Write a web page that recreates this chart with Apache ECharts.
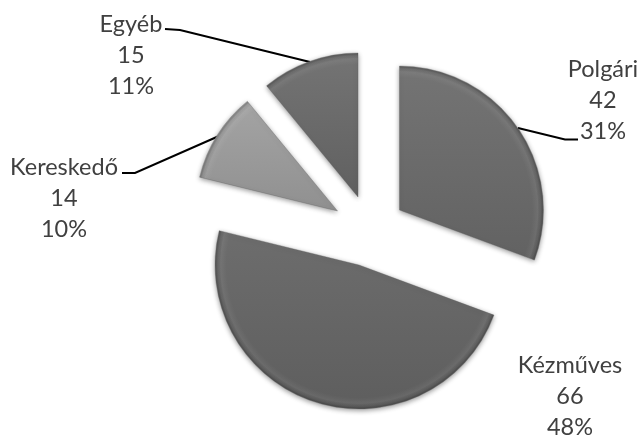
<!DOCTYPE html>
<html><head><meta charset="utf-8">
<style>html,body{margin:0;padding:0;background:#fff}#c{width:644px;height:438px}</style>
<script src="https://cdn.jsdelivr.net/npm/echarts@6/dist/echarts.min.js"></script>
</head><body><div id="c"></div>
<script>
const categories = ['Polgári','Kézműves','Kereskedő','Egyéb'];
const values = [42,66,14,15];
const centers = [[399.5,210],[359,265],[337.5,211],[358,197]];
const radii = [144,144,142,144];
const topColors = ['#747474','#6d6d6d','#a4a4a4','#747474'];
const bottomColors = ['#626262','#5e5e5e','#909090','#606060'];
const labelSpots = [[603,100],[570,396],[64,198],[131,55]];
const leaders = [
  [[518,128],[565,139.5],[578,139.5]],
  null,
  [[219,136],[135,173],[122,173]],
  [[310,62],[180,30],[165,29]]
];
const hidden = {color:'transparent',borderWidth:0,shadowBlur:0};
const series = [];
categories.forEach((name,i)=>{
  const [cx,cy]=centers[i], R=radii[i];
  series.push({
    type:'pie',center:centers[i],radius:[0,R],startAngle:90,clockwise:true,
    percentPrecision:0,silent:true,animation:false,avoidLabelOverlap:false,
    labelLayout:(p)=>({
      x:labelSpots[i][0],y:labelSpots[i][1],align:'center',verticalAlign:'middle',
      labelLinePoints:leaders[i]||undefined
    }),
    data:categories.map((n,j)=>({
      name:n,value:values[j],
      itemStyle:j===i?{
        color:{type:'linear',x:0,y:0,x2:0,y2:1,colorStops:[{offset:0,color:topColors[i]},{offset:1,color:bottomColors[i]}]},
        borderColor:'rgba(90,90,90,0.4)',borderWidth:0.8,
        shadowBlur:5,shadowColor:'rgba(0,0,0,0.4)',shadowOffsetY:1.5
      }:hidden,
      label:{show:j===i,position:'outside',formatter:'{b}\n{c}\n{d}%',
        fontFamily:'Lato, "Open Sans", sans-serif',fontSize:23.5,lineHeight:31,color:'#404040'},
      labelLine:{show:j===i&&!!leaders[i],lineStyle:{color:'#000',width:2}}
    }))
  });
  series.push({
    type:'pie',center:centers[i],radius:[0,R-0.5],startAngle:90,clockwise:true,
    silent:true,animation:false,label:{show:false},labelLine:{show:false},
    data:categories.map((n,j)=>({
      name:n,value:values[j],
      itemStyle:j===i?{
        color:{type:'radial',x:cx,y:cy,r:R,global:true,colorStops:[
          {offset:0,color:'rgba(255,255,255,0)'},
          {offset:0.92,color:'rgba(255,255,255,0)'},
          {offset:0.96,color:'rgba(255,255,255,0.06)'},
          {offset:0.98,color:'rgba(0,0,0,0.03)'},
          {offset:1,color:'rgba(0,0,0,0.28)'}]}
      }:hidden
    }))
  });
});
const chart = echarts.init(document.getElementById('c'),null,{renderer:'canvas'});
chart.setOption({animation:false,backgroundColor:'#fff',series});
</script></body></html>
